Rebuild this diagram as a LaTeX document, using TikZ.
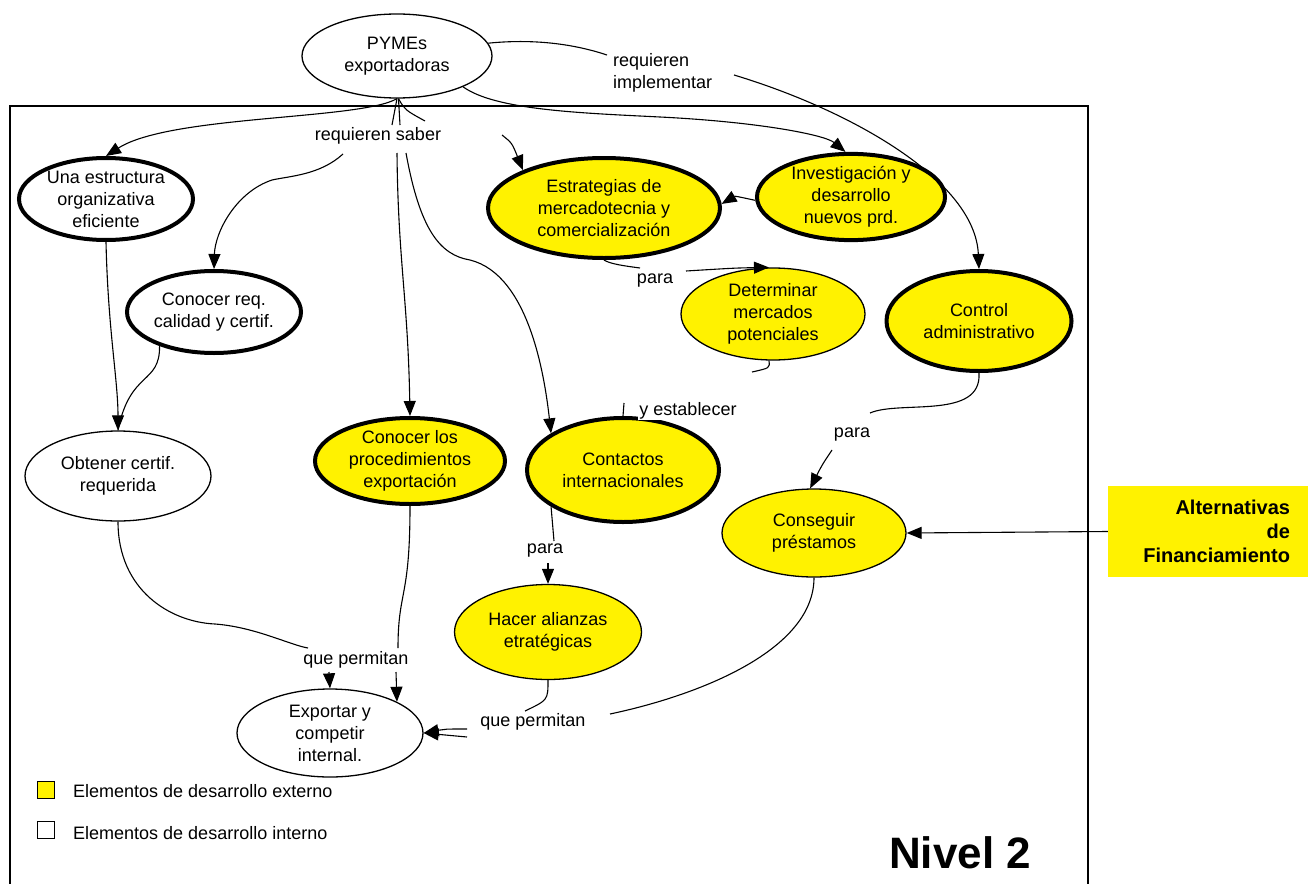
\documentclass[tikz,border=0pt]{standalone}
\usepackage{fontspec}
\setmainfont{Liberation Sans}
\usetikzlibrary{shapes.geometric,arrows.meta}
\begin{document}
\begin{tikzpicture}[x=1pt,y=-1pt,
  every node/.style={font=\fontsize{18}{22}\selectfont, align=center, inner sep=0pt},
  bub/.style={ellipse, draw, inner sep=0pt},
  wthin/.style={bub, fill=white, line width=1.3pt},
  ythin/.style={bub, fill=yellow, line width=1.3pt},
  wthick/.style={bub, fill=white, line width=4pt},
  ythick/.style={bub, fill=yellow, line width=4pt},
  conn/.style={line width=1.1pt},
  arr/.style={conn, -{Triangle[length=15pt,width=12pt]}},
  lbl/.style={fill=white, inner sep=1pt}
]
\useasboundingbox (0,0) rectangle (1308,883);
\clip (0,0) rectangle (1308,883);

% frame of the level
\draw[line width=1.2pt] (10,900) -- (10,106) -- (1088,106) -- (1088,900);

% concepts
\node[wthin, minimum width=190pt, minimum height=84pt] (pymes) at (397,56) {PYMEs\\exportadoras};
\node[wthick, minimum width=174pt, minimum height=82pt] (estr) at (106,199) {Una estructura\\organizativa\\eficiente};
\node[wthick, minimum width=174pt, minimum height=82pt] (calid) at (214,312) {Conocer req.\\calidad y certif.};
\node[ythick, minimum width=232pt, minimum height=100pt] (merc) at (604,208) {Estrategias de\\mercadotecnia y\\comercializaci\'on};
\node[ythick, minimum width=188pt, minimum height=80pt] (inves) at (851,197) {Investigaci\'on y\\desarrollo\\nuevos prd.};
\node[ythick, minimum width=185pt, minimum height=100pt] (ctrl) at (979,321) {Control\\administrativo};
\node[ythin, minimum width=184pt, minimum height=92pt] (deter) at (773,314) {Determinar\\mercados\\potenciales};
\node[ythick, minimum width=190pt, minimum height=86pt] (proc) at (410,461) {Conocer los\\procedimientos\\exportaci\'on};
\node[ythick, minimum width=192pt, minimum height=104pt] (cont) at (623,470) {Contactos\\internacionales};
\node[wthin, minimum width=186pt, minimum height=90pt] (obt) at (118,476) {Obtener certif.\\requerida};
\node[ythin, minimum width=184pt, minimum height=88pt] (prest) at (814,533) {Conseguir\\pr\'estamos};
\node[ythin, minimum width=187pt, minimum height=95pt] (alian) at (548,632) {Hacer alianzas\\etrat\'egicas};
\node[wthin, minimum width=186pt, minimum height=88pt] (expo) at (330,733) {Exportar y\\competir\\internal.};

% external source of financing
\node[fill=yellow, minimum width=200pt, minimum height=91pt, text width=164pt, align=right,
      font=\bfseries\fontsize{20}{24}\selectfont] (alt) at (1208,531.5) {Alternativas\\de\\Financiamiento};

% linking phrases
\node[lbl, anchor=west, align=left] (rimp) at (612,73) {requieren\\implementar};
\node[lbl] (rsab) at (378,136) {requieren saber};
\node[lbl] (para1) at (655,281) {para};
\node[lbl] (yest) at (688,411) {y establecer};
\node[lbl] (para2) at (852,435) {para};
\node[lbl] (para3) at (545,551) {para};
\node[lbl] (qp1) at (356,660) {que permitan};
\node[lbl] (qp2) at (533,722) {que permitan};

% attachment points beside the linking phrases
\coordinate (rimpA) at (607,55);
\coordinate (rimpB) at (734,75);
\coordinate (rsabA) at (392,125);
\coordinate (rsabB) at (400,125);
\coordinate (rsabC) at (425,121);
\coordinate (rsabD) at (343,154);
\coordinate (rsabE) at (397,153);
\coordinate (rsabF) at (406,153);
\coordinate (rsabG) at (502,135);
\coordinate (para1A) at (640,268);
\coordinate (para1B) at (686,271);
\coordinate (yestA) at (752,372);
\coordinate (yestB) at (624,403);
\coordinate (para2A) at (870,413);
\coordinate (para2B) at (832,450);
\coordinate (para3A) at (554,541);
\coordinate (para3B) at (548,563);
\coordinate (qp1A) at (308,648);
\coordinate (qp1B) at (398,648);
\coordinate (qp1C) at (329,672);
\coordinate (qp1D) at (396,672);
\coordinate (qp2A) at (525,711);
\coordinate (qp2B) at (610,714);
\coordinate (qp2C) at (467,729);
\coordinate (qp2D) at (467,737);

% PYMEs outgoing links
\draw[conn] (pymes.8) .. controls (540,38) and (580,46) .. (rimpA);
\draw[arr] (rimpB) .. controls (850,110) and (975,180) .. (ctrl.north);
\draw[arr] (pymes.-25) .. controls (495,110) and (580,113) .. (660,117)
           .. controls (760,122) and (825,135) .. (inves.97);
\draw[arr] (pymes.-90) .. controls (360,120) and (170,115) .. (estr.north);
\draw[conn] (pymes.-90) -- (rsabA);
\draw[conn] (pymes.-88) -- (rsabB);
\draw[conn] (pymes.-88) .. controls (405,110) .. (rsabC);

% from "requieren saber"
\draw[arr] (rsabD) .. controls (320,175) and (290,176) .. (272,180)
           .. controls (236,192) and (215,232) .. (calid.north);
\draw[arr] (rsabE) .. controls (398,260) and (408,300) .. (proc.north);
\draw[arr] (rsabF) .. controls (420,230) and (440,255) .. (470,260)
           .. controls (530,275) and (545,380) .. (cont.153);
\draw[arr] (rsabG) .. controls (512,143) .. (merc.155);

% market branch
\draw[arr] (inves.182) .. controls (735,196) .. (merc.2);
\draw[conn] (merc.-90) .. controls (610,264) and (625,266) .. (para1A);
\draw[arr] (para1B) .. controls (735,268) .. (deter.95);
\draw[conn] (deter.-95) .. controls (770,368) .. (yestA);
\draw[conn] (yestB) -- (cont.north);

% financing branch
\draw[conn] (ctrl.south) .. controls (982,420) and (900,400) .. (para2A);
\draw[arr] (para2B) .. controls (822,465) .. (prest.95);
\draw[arr] (alt.west) -- (prest.east);

% alliances
\draw[conn] (cont.-153) -- (para3A);
\draw[arr] (para3B) -- (alian.north);
\draw[conn] (alian.south) .. controls (548,700) .. (qp2A);
\draw[conn] (prest.south) .. controls (814,650) and (700,695) .. (qp2B);
\draw[arr] (qp2C) .. controls (445,729) .. (expo.east);
\draw[arr] (qp2D) -- (expo.east);

% internal branch
\draw[arr] (estr.south) .. controls (108,330) and (118,380) .. (obt.north);
\draw[conn] (calid.-148) .. controls (160,385) and (130,370) .. (obt.north);
\draw[conn] (obt.south) .. controls (118,590) and (170,622) .. (215,624)
            .. controls (255,627) and (290,645) .. (qp1A);
\draw[conn] (proc.south) .. controls (410,600) and (398,590) .. (qp1B);
\draw[arr] (qp1C) -- (expo.north);
\draw[arr] (qp1D) -- (expo.25);

% legend
\node[draw, fill=yellow, line width=1pt, minimum size=17pt] (legy) at (45.5,789.5) {};
\node[anchor=west] (legyt) at (73,791) {Elementos de desarrollo externo};
\node[draw, fill=white, line width=1pt, minimum size=17pt] (legw) at (45.5,829.5) {};
\node[anchor=west] (legwt) at (73,833) {Elementos de desarrollo interno};

\node[font=\bfseries\fontsize{44}{44}\selectfont] (nivel) at (960,853) {Nivel 2};
\end{tikzpicture}
\end{document}
